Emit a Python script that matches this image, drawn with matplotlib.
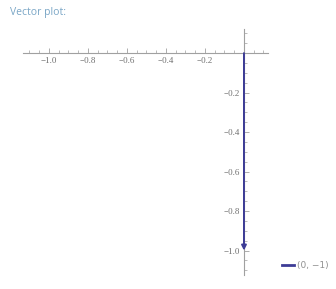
import matplotlib
matplotlib.use("Agg")
import matplotlib.pyplot as plt
import numpy as np
from matplotlib.lines import Line2D

# vector (0, -1) drawn from the origin
origin = [0.0, 0.0]
vector = [0.0, -1.0]
vec_label = "(0, \u22121)"

x_ticks = [-1.0, -0.8, -0.6, -0.4, -0.2]
y_ticks = [-1.0, -0.8, -0.6, -0.4, -0.2]
x_range = [-1.133, 0.123]
y_range = [-1.124, 0.122]

arrow_col = "#3d3c96"
axis_col = "#a0a0a0"
label_col = "#707070"

fig = plt.figure(figsize=(3.36, 2.89), dpi=100)
fig.text(0.03, 0.958, "Vector plot:", color="#7aa6c6", fontsize=7.5,
         family="Open Sans", va="center", ha="left")

ax = fig.add_axes([0.0685, 0.0484, 0.729, 0.851])
ax.set_xlim(x_range)
ax.set_ylim(y_range)

for s in ["top", "right"]:
    ax.spines[s].set_visible(False)
ax.spines["left"].set_position("zero")
ax.spines["bottom"].set_position("zero")
for s in ["left", "bottom"]:
    ax.spines[s].set_color(axis_col)
    ax.spines[s].set_linewidth(0.8)

ax.set_xticks(x_ticks)
ax.set_yticks(y_ticks)
ax.set_xticks(np.arange(-1.1, 0.11, 0.05), minor=True)
ax.set_yticks(np.arange(-1.1, 0.11, 0.05), minor=True)
ax.set_xticklabels(["\u2212%.1f" % abs(v) for v in x_ticks])
ax.set_yticklabels(["\u2212%.1f" % abs(v) for v in y_ticks])
ax.tick_params(which="major", direction="in", length=3.5, width=0.6,
               color=axis_col, labelcolor=label_col, labelsize=6.5, pad=3)
ax.tick_params(which="minor", direction="in", length=2, width=0.5,
               color=axis_col)
for t in ax.get_xticklabels() + ax.get_yticklabels():
    t.set_family("Liberation Serif")

ax.annotate("", xy=(origin[0] + vector[0], origin[1] + vector[1]),
            xytext=(origin[0], origin[1]),
            arrowprops=dict(arrowstyle="-|>", color=arrow_col, lw=1.4,
                            mutation_scale=7, shrinkA=0, shrinkB=0))

h = Line2D([], [], color=arrow_col, lw=2)
leg = fig.legend([h], [vec_label], loc="center left",
                 bbox_to_anchor=(0.815, 0.08), frameon=False,
                 handlelength=1.3, handletextpad=0.4, fontsize=6.5)
for t in leg.get_texts():
    t.set_color("#909090")

fig.savefig("out.png", dpi=100)
